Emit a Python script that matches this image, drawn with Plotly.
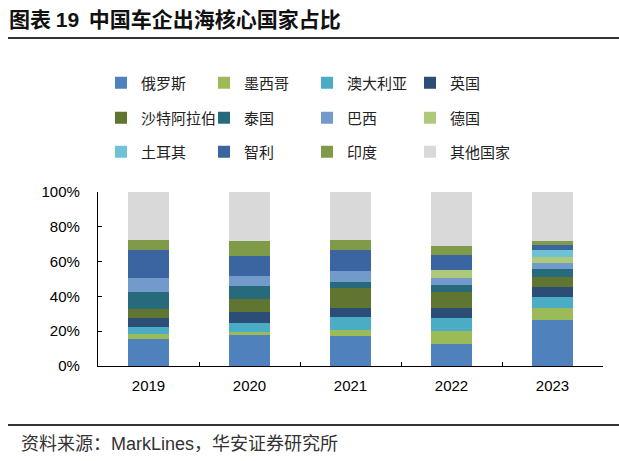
import plotly.graph_objects as go

years = ["2019", "2020", "2021", "2022", "2023"]
countries = ["俄罗斯", "墨西哥", "澳大利亚", "英国", "沙特阿拉伯", "泰国",
             "巴西", "德国", "土耳其", "智利", "印度", "其他国家"]

russia    = [15.6, 17.7, 17.1, 12.6, 26.3]
mexico    = [2.9, 1.7, 3.5, 7.4, 7.2]
australia = [4.0, 5.6, 7.6, 7.4, 6.1]
uk        = [5.1, 6.0, 5.1, 5.9, 5.7]
saudi     = [5.4, 7.7, 11.4, 9.2, 5.7]
thailand  = [9.5, 7.0, 3.5, 3.8, 5.0]
brazil    = [8.0, 6.3, 6.3, 4.2, 3.4]
germany   = [0.0, 0.0, 0.0, 4.4, 3.5]
turkey    = [0.0, 0.0, 0.0, 0.0, 3.8]
chile     = [16.2, 11.4, 12.4, 9.1, 3.0]
india     = [5.7, 8.6, 5.5, 4.7, 2.3]
others    = [27.6, 28.0, 27.6, 31.3, 28.0]

series = [russia, mexico, australia, uk, saudi, thailand,
          brazil, germany, turkey, chile, india, others]
colors = ["#4F81BD", "#9BBB59", "#4BACC6", "#2C4D75", "#5F7530", "#276A7C",
          "#729ACA", "#AFC97A", "#6FC1D6", "#3B65A1", "#7F9A48", "#D9D9D9"]

W, H = 619, 461
ML, MR, MT, MB = 98, 16, 192, 95
PW = W - ML - MR
PH = H - MT - MB

def px_x(x):
    return (x - ML) / PW

def px_y(y):
    return (H - MB - y) / PH

FONT_CJK = "Noto Sans CJK SC"
FONT_LAT = "Liberation Sans, Arial"

fig = go.Figure()
legend_names = ["legend", "legend2", "legend3"]
for i, (name, vals, col) in enumerate(zip(countries, series, colors)):
    fig.add_trace(go.Bar(
        x=years, y=vals, name=name,
        marker=dict(color=col, line=dict(width=0)),
        legend=legend_names[i // 4],
    ))

row_y = [83, 118, 152]
legend_common = dict(
    orientation="h", xref="container", yref="container",
    x=101 / W, xanchor="left", yanchor="middle",
    entrywidth=58, entrywidthmode="pixels",
    itemwidth=30, traceorder="normal",
    font=dict(family=FONT_CJK, size=15, color="#222222"),
    bgcolor="rgba(0,0,0,0)",
)
fig.update_layout(
    legend=dict(y=1 - row_y[0] / H, **legend_common),
    legend2=dict(y=1 - row_y[1] / H, **legend_common),
    legend3=dict(y=1 - row_y[2] / H, **legend_common),
)

fig.update_layout(
    barmode="stack",
    bargap=0.59,
    width=W, height=H,
    margin=dict(l=ML, r=MR, t=MT, b=MB, autoexpand=False),
    paper_bgcolor="white", plot_bgcolor="white",
    font=dict(family=FONT_LAT, size=15, color="#000000"),
    xaxis=dict(
        showline=True, linecolor="#000000", linewidth=1.3,
        ticks="inside", tickson="boundaries", ticklen=4, tickcolor="#000000",
        ticklabelstandoff=6,
        tickfont=dict(family=FONT_LAT, size=15, color="#000000"),
        showgrid=False, zeroline=False, fixedrange=True,
    ),
    yaxis=dict(
        range=[0, 100], dtick=20, ticksuffix="%",
        showline=True, linecolor="#000000", linewidth=1.3,
        ticks="inside", ticklen=4, tickcolor="#000000",
        ticklabelstandoff=14,
        tickfont=dict(family=FONT_LAT, size=15, color="#000000"),
        showgrid=False, zeroline=False, fixedrange=True,
    ),
    showlegend=True,
)

# Title and source
fig.add_annotation(
    text="<b>图表 <span style=\"font-family:Liberation Sans, Arial\">19</span>  中国车企出海核心国家占比</b>",
    xref="paper", yref="paper", x=px_x(7), y=px_y(18),
    xanchor="left", yanchor="middle", showarrow=False,
    font=dict(family=FONT_CJK, size=21, color="#111111"),
)
fig.add_shape(type="line", xref="paper", yref="paper",
              x0=px_x(8), x1=px_x(619), y0=px_y(38), y1=px_y(38),
              line=dict(color="#333333", width=2))
fig.add_shape(type="line", xref="paper", yref="paper",
              x0=px_x(8), x1=px_x(619), y0=px_y(425), y1=px_y(425),
              line=dict(color="#333333", width=2))
fig.add_annotation(
    text="资料来源：<span style=\"font-family:Liberation Sans, Arial\">MarkLines</span>，华安证券研究所",
    xref="paper", yref="paper", x=px_x(19), y=px_y(442),
    xanchor="left", yanchor="middle", showarrow=False,
    font=dict(family=FONT_CJK, size=18, color="#333333"),
)

fig.write_html(
    "out.html",
    config={"displayModeBar": False},
    post_script="document.body.style.margin='0';document.body.style.padding='0';document.body.style.overflow='hidden';",
)
